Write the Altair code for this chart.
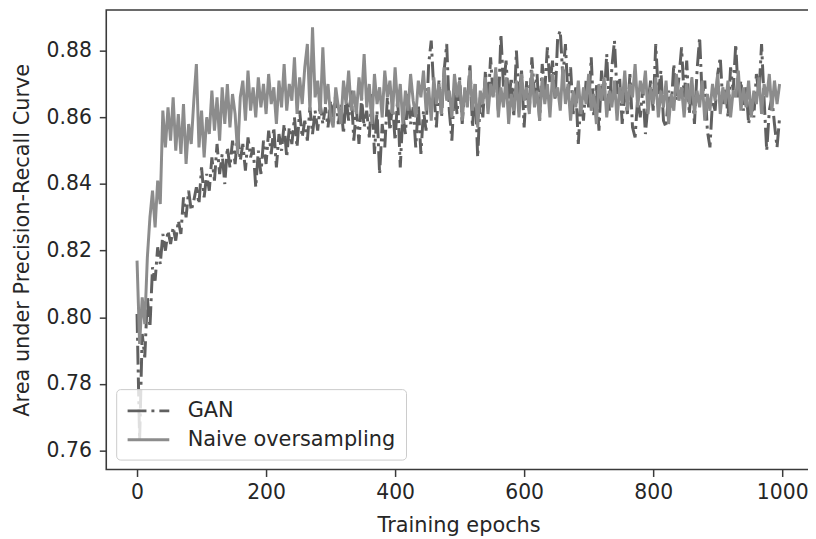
import altair as alt
import pandas as pd

SERIES = ["GAN", "Naive oversampling"]
EPOCH_STEP = 4
X_TICKS = [0, 200, 400, 600, 800, 1000]
Y_TICKS = [0.76, 0.78, 0.80, 0.82, 0.84, 0.86, 0.88]

gan = [
    0.801, 0.763, 0.795, 0.788, 0.806, 0.797, 0.815, 0.811, 0.821, 0.816,
    0.825, 0.820, 0.826, 0.822, 0.827, 0.823, 0.829, 0.825, 0.836, 0.830,
    0.838, 0.832, 0.835, 0.839, 0.834, 0.845, 0.836, 0.843, 0.838, 0.848,
    0.841, 0.852, 0.843, 0.849, 0.840, 0.851, 0.845, 0.853, 0.846, 0.855,
    0.847, 0.852, 0.844, 0.854, 0.848, 0.851, 0.839, 0.850, 0.843, 0.853,
    0.846, 0.856, 0.849, 0.857, 0.845, 0.855, 0.850, 0.858, 0.848, 0.857,
    0.852, 0.860, 0.851, 0.862, 0.854, 0.859, 0.853, 0.863, 0.855, 0.862,
    0.856, 0.864, 0.858, 0.863, 0.857, 0.865, 0.860, 0.867, 0.858, 0.864,
    0.855, 0.866, 0.859, 0.868, 0.853, 0.863, 0.852, 0.866, 0.857, 0.862,
    0.854, 0.867, 0.849, 0.862, 0.843, 0.858, 0.851, 0.866, 0.856, 0.864,
    0.853, 0.866, 0.845, 0.861, 0.855, 0.867, 0.858, 0.863, 0.851, 0.864,
    0.849, 0.862, 0.856, 0.876, 0.883, 0.868, 0.857, 0.871, 0.860, 0.874,
    0.882, 0.862, 0.853, 0.869, 0.861, 0.872, 0.858, 0.868, 0.864, 0.876,
    0.857, 0.870, 0.848, 0.866, 0.860, 0.874, 0.863, 0.878, 0.866, 0.873,
    0.862, 0.885, 0.869, 0.877, 0.864, 0.872, 0.860, 0.880, 0.866, 0.874,
    0.857, 0.871, 0.862, 0.878, 0.867, 0.873, 0.859, 0.876, 0.868, 0.881,
    0.870, 0.877, 0.865, 0.884, 0.886, 0.872, 0.882, 0.866, 0.875, 0.861,
    0.869, 0.852, 0.866, 0.859, 0.871, 0.863, 0.878, 0.860, 0.870, 0.856,
    0.874, 0.865, 0.879, 0.862, 0.875, 0.883, 0.867, 0.872, 0.858, 0.868,
    0.861, 0.873, 0.857, 0.854, 0.866, 0.860, 0.869, 0.855, 0.864, 0.871,
    0.862, 0.882, 0.867, 0.874, 0.859, 0.857, 0.868, 0.863, 0.876, 0.865,
    0.872, 0.881, 0.866, 0.877, 0.861, 0.870, 0.858, 0.874, 0.884, 0.866,
    0.871, 0.856, 0.851, 0.865, 0.862, 0.873, 0.878, 0.864, 0.869, 0.860,
    0.875, 0.868, 0.882, 0.866, 0.871, 0.862, 0.869, 0.858, 0.864, 0.860,
    0.873, 0.867, 0.882, 0.865, 0.850, 0.862, 0.866, 0.858, 0.851, 0.860,
]

naive = [
    0.817, 0.792, 0.806, 0.798, 0.818, 0.830, 0.838, 0.827, 0.841, 0.834,
    0.862, 0.851, 0.863, 0.853, 0.866, 0.850, 0.861, 0.849, 0.864, 0.846,
    0.858, 0.852, 0.865, 0.876, 0.851, 0.862, 0.848, 0.860, 0.855, 0.868,
    0.856, 0.866, 0.853, 0.869, 0.858, 0.870, 0.857, 0.867, 0.861, 0.849,
    0.866, 0.871, 0.859, 0.874, 0.862, 0.869, 0.860, 0.872, 0.863, 0.870,
    0.861, 0.873, 0.864, 0.869, 0.858, 0.871, 0.863, 0.876, 0.862, 0.870,
    0.865, 0.878, 0.861, 0.872, 0.864, 0.875, 0.882, 0.862, 0.887, 0.866,
    0.871, 0.861, 0.881, 0.864, 0.870, 0.860, 0.857, 0.869, 0.863, 0.858,
    0.871, 0.864, 0.874, 0.862, 0.868, 0.861, 0.872, 0.865, 0.879, 0.863,
    0.870, 0.858, 0.873, 0.864, 0.869, 0.860, 0.874, 0.866, 0.871, 0.861,
    0.875, 0.863, 0.870, 0.858, 0.868, 0.862, 0.873, 0.865, 0.860, 0.871,
    0.866, 0.874, 0.862, 0.869, 0.859, 0.872, 0.864, 0.870, 0.861, 0.875,
    0.865, 0.868, 0.860, 0.873, 0.866, 0.871, 0.859, 0.869, 0.863, 0.874,
    0.862, 0.870, 0.857, 0.868, 0.864, 0.872, 0.861, 0.870, 0.866, 0.875,
    0.860, 0.869, 0.863, 0.872, 0.858, 0.867, 0.862, 0.871, 0.860, 0.873,
    0.865, 0.869, 0.861, 0.874, 0.863, 0.868, 0.859, 0.872, 0.864, 0.870,
    0.860, 0.873, 0.866, 0.869, 0.862, 0.875, 0.864, 0.870, 0.859, 0.868,
    0.863, 0.871, 0.861, 0.869, 0.864, 0.873, 0.862, 0.867, 0.858, 0.870,
    0.865, 0.872, 0.860, 0.868, 0.863, 0.871, 0.859, 0.869, 0.864, 0.874,
    0.862, 0.870, 0.866, 0.876, 0.863, 0.871, 0.867, 0.874, 0.861, 0.869,
    0.864, 0.872, 0.860, 0.868, 0.863, 0.871, 0.858, 0.867, 0.862, 0.873,
    0.865, 0.869, 0.860, 0.870, 0.864, 0.872, 0.861, 0.868, 0.863, 0.871,
    0.859, 0.867, 0.862, 0.870, 0.865, 0.873, 0.861, 0.869, 0.864, 0.871,
    0.860, 0.868, 0.866, 0.874, 0.862, 0.869, 0.863, 0.871, 0.860, 0.868,
    0.864, 0.872, 0.861, 0.870, 0.866, 0.873, 0.862, 0.871, 0.864, 0.870,
]

rows = []
for name, vals in zip(SERIES, [gan, naive]):
    for i, v in enumerate(vals):
        rows.append({"epoch": i * EPOCH_STEP, "auc": v, "series": name})
df = pd.DataFrame(rows)

FONT = "DejaVu Sans"
TXT = "#262626"
FRAME = "#3a3a3a"

legend = alt.Legend(
    title=None, orient="none", legendX=10, legendY=382,
    symbolType="M-1,0L3,0", symbolSize=441, symbolStrokeWidth=2.8,
    labelFont=FONT, labelFontSize=21, labelColor=TXT, labelLimit=400,
    labelOffset=38, rowPadding=7, padding=10,
    strokeColor="#cccccc", fillColor="rgba(255,255,255,0.8)", cornerRadius=4,
)

chart = alt.Chart(df).mark_line(strokeWidth=3, clip=True).encode(
    x=alt.X("epoch:Q",
            scale=alt.Scale(domain=[-47.7, 1044.6], nice=False, zero=False),
            axis=alt.Axis(values=X_TICKS, format="d", title="Training epochs",
                          labelPadding=6, titlePadding=12)),
    y=alt.Y("auc:Q",
            scale=alt.Scale(domain=[0.75434, 0.89221], nice=False, zero=False),
            axis=alt.Axis(values=Y_TICKS, format=".2f",
                          title="Area under Precision-Recall Curve",
                          labelPadding=8, titlePadding=14)),
    color=alt.Color("series:N",
                    scale=alt.Scale(domain=SERIES, range=["#606060", "#8c8c8c"]),
                    legend=legend),
    strokeDash=alt.StrokeDash("series:N",
                              scale=alt.Scale(domain=SERIES, range=[[19, 5, 3, 5], [1, 0]]),
                              legend=legend),
).properties(
    width=710, height=463,
    autosize=alt.AutoSizeParams(type="none"),
    padding={"left": 99, "top": 0, "right": -3, "bottom": 66},
).configure_view(
    stroke=FRAME, strokeWidth=1.6,
).configure_axis(
    domain=False, grid=False,
    tickColor=FRAME, tickSize=7, tickWidth=1.5,
    labelFont=FONT, labelFontSize=20.5, labelColor=TXT,
    titleFont=FONT, titleFontSize=21, titleColor=TXT, titleFontWeight="normal",
)

chart.save("out.html", embed_options={"renderer": "svg", "actions": False})
